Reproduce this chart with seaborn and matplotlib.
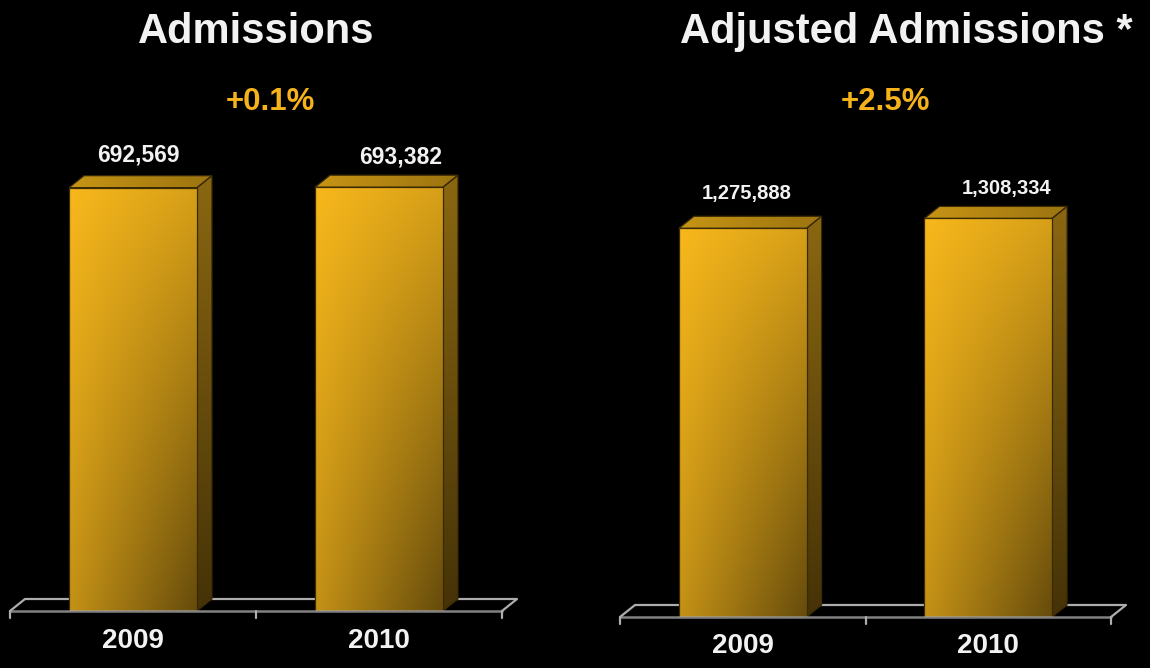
import numpy as np
import pandas as pd
import matplotlib
matplotlib.use("Agg")
import matplotlib.pyplot as plt
import seaborn as sns
from matplotlib.colors import to_rgb
from matplotlib.patches import Polygon

# ---- data -------------------------------------------------------------
years = ["2009", "2010"]
admissions = [692569, 693382]
adjusted_admissions = [1275888, 1308334]
titles = ["Admissions", "Adjusted Admissions *"]
changes = ["+0.1%", "+2.5%"]

# ---- style ------------------------------------------------------------
sns.set_theme(style="dark", rc={"figure.facecolor": "black",
                                "axes.facecolor": "black",
                                "savefig.facecolor": "black"})
plt.rcParams["font.family"] = ["Liberation Sans", "DejaVu Sans"]

FIG_W, FIG_H, DPI = 1150, 668, 100
DEPTH_X, DEPTH_Y = 15, 12          # 3-D depth of bars / floor, in pixels
GOLD = "#F5B21A"
FLOOR = "#ADADAD"
EDGE = "#3A2A05"
WHITE = "#F2F2F2"

panels = [
    dict(values=admissions, title=titles[0], change=changes[0],
         box=(10, 502, 611, 122), ymax=800000,
         title_x=256, change_x=270, value_size=16.5, year_pad=12.5,
         nudges=[(5, 33), (22, 30)]),
    dict(values=adjusted_admissions, title=titles[1], change=changes[1],
         box=(620, 1111, 617, 160), ymax=1500000,
         title_x=906, change_x=885, value_size=14.5, year_pad=11.5,
         nudges=[(4, 35), (18, 30)]),
]

fig = plt.figure(figsize=(FIG_W / DPI, FIG_H / DPI), dpi=DPI)


def add_px_axes(left, right, floor, top):
    return fig.add_axes([left / FIG_W, 1 - floor / FIG_H,
                         (right - left) / FIG_W, (floor - top) / FIG_H])


def shaded(ax, verts, img, z):
    """Fill a polygon (data coords) with an RGB image clipped to it."""
    poly = Polygon(verts, closed=True, facecolor="none", edgecolor=EDGE,
                   linewidth=0.9, zorder=z + 0.1)
    ax.add_patch(poly)
    xs = [v[0] for v in verts]
    ys = [v[1] for v in verts]
    im = ax.imshow(img, extent=(min(xs), max(xs), min(ys), max(ys)),
                   aspect="auto", interpolation="bilinear", zorder=z,
                   origin="upper")
    im.set_clip_path(poly)
    return poly


def front_img(nx=80, ny=300):
    u = np.linspace(0, 1, nx)[None, :]
    v = np.linspace(0, 1, ny)[:, None]
    f = 1 - 0.13 * u - 0.21 * v - 0.25 * u * v
    base = np.array(to_rgb("#F8B81C"))
    return np.clip(base[None, None, :] * f[..., None], 0, 1)


def side_img(ny=200):
    v = np.linspace(0, 1, ny)[:, None]
    top = np.array(to_rgb("#8A6711"))
    bot = np.array(to_rgb("#453207"))
    col = top[None, :] * (1 - v) + bot[None, :] * v
    return np.repeat(col[:, None, :], 4, axis=1)


def top_img(nx=80):
    u = np.linspace(0, 1, nx)[None, :]
    left = np.array(to_rgb("#C79414"))
    right = np.array(to_rgb("#9C7410"))
    row = left[None, :] * (1 - u.T) + right[None, :] * u.T
    return np.repeat(row[None, :, :], 4, axis=0)


for p in panels:
    left, right, floor, top = p["box"]
    ax = add_px_axes(left, right, floor, top)
    df = pd.DataFrame({"year": years, "value": p["values"]})
    sns.barplot(data=df, x="year", y="value", ax=ax, width=0.52,
                color=GOLD, saturation=1, linewidth=0)
    ax.set_xlim(-0.5, 1.5)
    ax.set_ylim(0, p["ymax"])

    # depth offsets converted to data units
    dx = DEPTH_X * 2.0 / (right - left)
    dy = DEPTH_Y * p["ymax"] / (floor - top)
    tick = 7 * p["ymax"] / (floor - top)

    # floor outline
    x0, x1 = -0.5, 1.5
    ax.plot([x0 + dx, x1 + dx], [dy, dy], color=FLOOR, lw=1.6,
            zorder=1, clip_on=False, solid_capstyle="butt")
    ax.plot([x0, x0 + dx], [0, dy], color=FLOOR, lw=1.6, zorder=1,
            clip_on=False)
    ax.plot([x1, x1 + dx], [0, dy], color=FLOOR, lw=1.6, zorder=1,
            clip_on=False)
    ax.plot([x0, x1], [0, 0], color=FLOOR, lw=1.8, zorder=5,
            clip_on=False, alpha=0.75)
    for xt in (-0.5, 0.5, 1.5):
        ax.plot([xt, xt], [0, -tick], color=FLOOR, lw=1.6, zorder=1,
                clip_on=False)

    # 3-D bars built from the seaborn bar rectangles
    for patch, (ndx, ndy) in zip(list(ax.patches), p["nudges"]):
        bx, bw, bh = patch.get_x(), patch.get_width(), patch.get_height()
        bx1 = bx + bw
        patch.set_visible(False)
        shaded(ax, [(bx1, 0), (bx1, bh), (bx1 + dx, bh + dy), (bx1 + dx, dy)],
               side_img(), 2)
        shaded(ax, [(bx, bh), (bx1, bh), (bx1 + dx, bh + dy), (bx + dx, bh + dy)],
               top_img(), 2)
        shaded(ax, [(bx, 0), (bx1, 0), (bx1, bh), (bx, bh)], front_img(), 3)
        ax.annotate(f"{bh:,.0f}", xy=(bx + bw / 2, bh),
                    xytext=(ndx, ndy), textcoords="offset pixels",
                    ha="center", va="center", color=WHITE,
                    fontsize=p["value_size"], fontweight="bold",
                    annotation_clip=False)

    ax.set_xlim(-0.5, 1.5)
    ax.set_ylim(0, p["ymax"])
    ax.set_xlabel("")
    ax.set_ylabel("")
    ax.set_yticks([])
    ax.grid(False)
    for s in ax.spines.values():
        s.set_visible(False)
    ax.patch.set_alpha(0)
    ax.tick_params(axis="x", length=0, colors=WHITE, labelsize=20,
                   pad=p["year_pad"])
    for lbl in ax.get_xticklabels():
        lbl.set_fontweight("bold")

    fig.text(p["title_x"] / FIG_W, 1 - 43 / FIG_H, p["title"],
             ha="center", va="baseline", color=WHITE, fontsize=30,
             fontweight="bold")
    fig.text(p["change_x"] / FIG_W, 1 - 110 / FIG_H, p["change"],
             ha="center", va="baseline", color=GOLD, fontsize=22.5,
             fontweight="bold")

fig.savefig("out.png", dpi=DPI, facecolor="black")
